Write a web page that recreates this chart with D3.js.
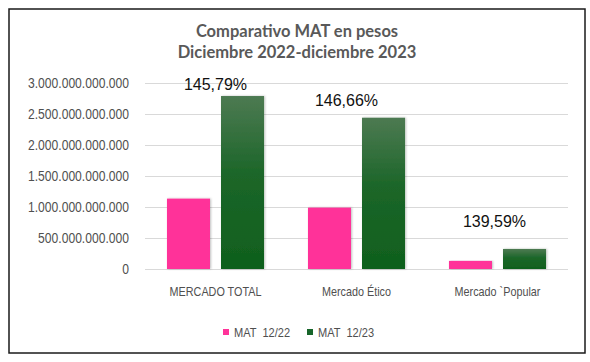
<!DOCTYPE html>
<html>
<head>
<meta charset="utf-8">
<script src="https://cdn.jsdelivr.net/npm/d3@7"></script>
<style>
  body { margin: 0; background: #fff; }
  svg { display: block; }
</style>
</head>
<body>
<svg id="chart" width="590" height="362"></svg>
<script>
// data
const categories = ["MERCADO TOTAL", "Mercado Ético", "Mercado `Popular"];
const series = ["MAT 12/22", "MAT 12/23"];
const mat2212 = [1.135e12, 0.99e12, 0.13e12];
const mat2312 = [2.79e12, 2.44e12, 0.323e12];
const growthLabels = ["145,79%", "146,66%", "139,59%"];
const yTicks = [0, 5e11, 1e12, 1.5e12, 2e12, 2.5e12, 3e12];

const colors = { "MAT 12/22": "#ff3399", "MAT 12/23": "#17652a" };
const grey = "#595959";
const axisGrey = "#4f4f4f";
const sans = "'Liberation Sans', Arial, sans-serif";

// no narrow font available, so squeeze the normal one horizontally
function squeeze(sel, k) {
  sel.each(function () {
    const w = this.getComputedTextLength();
    d3.select(this).attr("textLength", w * k).attr("lengthAdjust", "spacingAndGlyphs");
  });
}

const svg = d3.select("#chart");

// frame
svg.append("rect")
  .attr("x", 9).attr("y", 9)
  .attr("width", 576).attr("height", 344)
  .attr("fill", "#fff")
  .attr("stroke", "#1a1a1a")
  .attr("stroke-width", 1.5);

const defs = svg.append("defs");
const grad = defs.append("linearGradient")
  .attr("id", "greenGrad")
  .attr("x1", 0).attr("y1", 0).attr("x2", 0).attr("y2", 1);
grad.append("stop").attr("offset", "0%").attr("stop-color", "#4d7a52");
grad.append("stop").attr("offset", "45%").attr("stop-color", "#1c6629");
grad.append("stop").attr("offset", "100%").attr("stop-color", "#0f601d");

const shadow = defs.append("filter").attr("id", "shadow")
  .attr("x", "-20%").attr("y", "-10%").attr("width", "140%").attr("height", "120%");
shadow.append("feDropShadow")
  .attr("dx", 1).attr("dy", 0).attr("stdDeviation", 1)
  .attr("flood-color", "#000").attr("flood-opacity", 0.25);

// title
const title = svg.append("text")
  .attr("text-anchor", "middle")
  .attr("fill", grey)
  .attr("font-family", "Lato, 'Open Sans', sans-serif")
  .attr("font-weight", "bold")
  .attr("font-size", 16.5);
title.append("tspan").attr("x", 297).attr("y", 37).text("Comparativo MAT en pesos");
title.append("tspan").attr("x", 297).attr("y", 58).text("Diciembre 2022-diciembre 2023");

// scales
const x = d3.scaleBand().domain(categories).range([145, 568]);
const xs = d3.scaleBand().domain(series).range([0, x.bandwidth()])
  .paddingInner(0.2037).paddingOuter(0.407);
const y = d3.scaleLinear().domain([0, 3e12]).range([269, 83]);

const locale = d3.formatLocale({ decimal: ",", thousands: ".", grouping: [3], currency: ["$", ""] });
const fmt = locale.format(",.0f");

// gridlines
svg.append("g")
  .selectAll("line")
  .data(yTicks)
  .join("line")
  .attr("x1", 145).attr("x2", 568)
  .attr("y1", d => Math.round(y(d)) + 0.5)
  .attr("y2", d => Math.round(y(d)) + 0.5)
  .attr("stroke", "#d9d9d9")
  .attr("stroke-width", 1);

// y axis labels
const yAxis = svg.append("g")
  .attr("transform", "translate(145,0)")
  .call(d3.axisLeft(y).tickValues(yTicks).tickFormat(fmt).tickSize(0).tickPadding(16));
yAxis.select(".domain").remove();
yAxis.selectAll("text")
  .attr("fill", axisGrey)
  .attr("font-family", sans)
  .attr("font-size", 14)
  .call(squeeze, 0.865);

// x axis labels
const xAxis = svg.append("g")
  .attr("transform", "translate(0,269)")
  .call(d3.axisBottom(x).tickSize(0).tickPadding(17));
xAxis.select(".domain").remove();
xAxis.selectAll("text")
  .attr("fill", axisGrey)
  .attr("font-family", sans)
  .attr("font-size", 13.5)
  .call(squeeze, 0.8);

// bars
const rows = categories.map((c, i) => ({
  cat: c,
  vals: [
    { s: series[0], v: mat2212[i] },
    { s: series[1], v: mat2312[i] }
  ]
}));

const groups = svg.append("g")
  .selectAll("g")
  .data(rows)
  .join("g")
  .attr("transform", d => `translate(${x(d.cat)},0)`);

groups.selectAll("rect")
  .data(d => d.vals)
  .join("rect")
  .attr("x", d => xs(d.s))
  .attr("width", xs.bandwidth())
  .attr("y", d => y(d.v))
  .attr("height", d => y(0) - y(d.v))
  .attr("fill", d => d.s === series[1] ? "url(#greenGrad)" : colors[d.s])
  .attr("filter", "url(#shadow)");

// growth labels (lifted above the 12/23 bar, as placed in the original)
const labelLift = [6, 12, 22];
const labelShift = [0, -10, -3];
svg.append("g")
  .selectAll("text")
  .data(categories)
  .join("text")
  .attr("x", (c, i) => x(c) + x.bandwidth() / 2 + labelShift[i])
  .attr("y", (c, i) => y(mat2312[i]) - labelLift[i])
  .attr("text-anchor", "middle")
  .attr("fill", "#111")
  .attr("font-family", sans)
  .attr("font-size", 16)
  .text((c, i) => growthLabels[i]);

// legend
const legendX = [223, 307];
const legend = svg.append("g")
  .selectAll("g")
  .data(series)
  .join("g")
  .attr("transform", (d, i) => `translate(${legendX[i]},332)`);
legend.append("rect")
  .attr("x", 0).attr("y", -3)
  .attr("width", 6).attr("height", 6)
  .attr("fill", d => colors[d]);
legend.append("text")
  .attr("x", 11).attr("y", 4.5)
  .attr("fill", axisGrey)
  .attr("font-family", sans)
  .attr("font-size", 13)
  .attr("xml:space", "preserve")
  .text(d => d.replace(" ", "  "))
  .call(squeeze, 0.85);
</script>
</body>
</html>
